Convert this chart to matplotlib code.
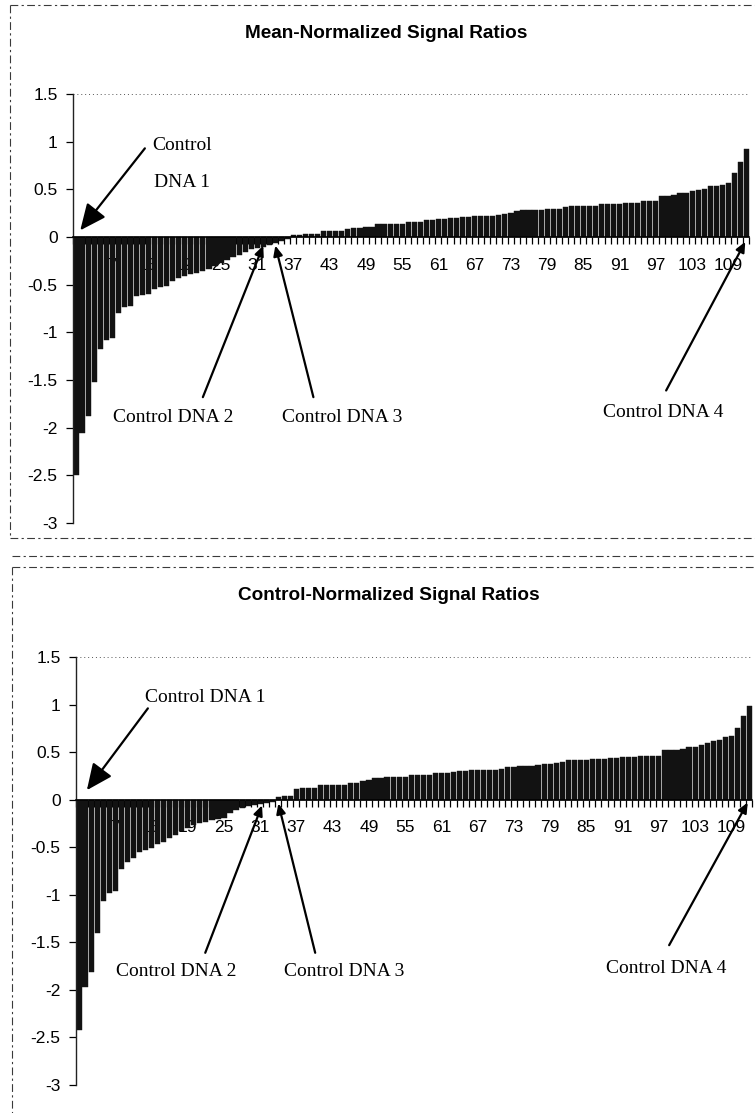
import matplotlib
matplotlib.use("Agg")
import matplotlib.pyplot as plt
from matplotlib.lines import Line2D
import numpy as np

# Sorted log signal ratios for the 112 DNA samples, two normalisations
mean_normalized = [
    -2.50, -2.06, -1.88, -1.52, -1.17, -1.08, -1.06, -0.80, -0.73, -0.72,
    -0.62, -0.61, -0.60, -0.55, -0.52, -0.51, -0.46, -0.43, -0.41, -0.39,
    -0.38, -0.36, -0.34, -0.30, -0.27, -0.24, -0.21, -0.19, -0.16, -0.13,
    -0.12, -0.10, -0.08, -0.06, -0.04, -0.02,
    0.02, 0.02, 0.03, 0.03, 0.03, 0.06, 0.06, 0.06, 0.06, 0.08,
    0.09, 0.09, 0.10, 0.11, 0.14, 0.14, 0.14, 0.14, 0.14, 0.16,
    0.16, 0.16, 0.18, 0.18, 0.19, 0.19, 0.20, 0.20, 0.21, 0.21,
    0.22, 0.22, 0.22, 0.22, 0.23, 0.24, 0.25, 0.27, 0.28, 0.28,
    0.28, 0.28, 0.29, 0.29, 0.29, 0.31, 0.32, 0.32, 0.33, 0.33,
    0.33, 0.35, 0.35, 0.35, 0.35, 0.36, 0.36, 0.36, 0.38, 0.38, 0.38,
    0.43, 0.43, 0.44, 0.46, 0.46, 0.48, 0.49, 0.50, 0.53, 0.53,
    0.55, 0.57, 0.67, 0.79, 0.92,
]

control_normalized = [
    -2.42, -1.97, -1.81, -1.40, -1.07, -0.98, -0.96, -0.73, -0.66, -0.61,
    -0.55, -0.53, -0.51, -0.47, -0.44, -0.40, -0.37, -0.33, -0.30, -0.27,
    -0.25, -0.23, -0.21, -0.20, -0.19, -0.14, -0.11, -0.09, -0.07, -0.06,
    -0.05, -0.04, -0.02,
    0.03, 0.035, 0.035,
    0.11, 0.12, 0.12, 0.12,
    0.155, 0.155, 0.155, 0.155, 0.155,
    0.18, 0.18, 0.196, 0.203, 0.228, 0.228,
    0.24, 0.24, 0.24, 0.24,
    0.256, 0.256, 0.256, 0.256,
    0.28, 0.28, 0.28, 0.295, 0.30, 0.30,
    0.31, 0.31, 0.31, 0.31, 0.31,
    0.32, 0.344, 0.344, 0.35, 0.35, 0.35,
    0.365, 0.379, 0.379, 0.386, 0.393,
    0.414, 0.414, 0.42, 0.42, 0.428, 0.428, 0.432, 0.435, 0.435,
    0.449, 0.449, 0.449, 0.463, 0.463, 0.463, 0.463,
    0.52, 0.52, 0.52, 0.533, 0.554, 0.554, 0.579, 0.596, 0.614, 0.632,
    0.66, 0.674, 0.754, 0.877, 0.99,
]

panel_titles = ["Mean-Normalized Signal Ratios", "Control-Normalized Signal Ratios"]
y_ticks = [1.5, 1, 0.5, 0, -0.5, -1, -1.5, -2, -2.5, -3]
label_step = 6

SANS = ["Liberation Sans", "DejaVu Sans"]
SERIF = ["Liberation Serif", "DejaVu Serif"]

W, H = 755, 1113
fig = plt.figure(figsize=(W / 100, H / 100), dpi=100)


def px_rect(left, top, right, bottom):
    return [left / W, 1 - bottom / H, (right - left) / W, (bottom - top) / H]


def draw_panel(ax, values):
    n = len(values)
    idx = np.arange(1, n + 1)
    ax.bar(idx, values, width=0.86, color="#121212", edgecolor="#121212",
           linewidth=0.3, zorder=2)
    ax.set_xlim(0.5, n + 0.5)
    ax.set_ylim(-3, 1.5)

    for s in ("top", "right"):
        ax.spines[s].set_visible(False)
    ax.spines["bottom"].set_position(("data", 0))
    ax.spines["bottom"].set_linewidth(1.2)
    ax.spines["left"].set_linewidth(1.0)
    ax.spines["left"].set_color("#222222")

    # category boundaries carry the tick marks, every sixth category a label
    ax.set_xticks(np.arange(0.5, n + 1, 1.0))
    ax.set_xticklabels([])
    ax.tick_params(axis="x", which="major", direction="out", length=5,
                   width=0.9, color="black")
    lab_pos = np.arange(1, n + 1, label_step)
    ax.set_xticks(lab_pos, minor=True)
    ax.set_xticklabels([str(v) for v in lab_pos], minor=True,
                       fontfamily=SANS, fontsize=12.5)
    ax.tick_params(axis="x", which="minor", length=0, pad=15)
    ax.xaxis.set_zorder(0.5)

    ax.set_yticks(y_ticks)
    ax.set_yticklabels([f"{t:g}" for t in y_ticks], fontfamily=SANS, fontsize=12.5)
    ax.tick_params(axis="y", direction="out", length=5, width=0.9, pad=6)

    ax.axhline(1.5, color="#555555", lw=0.7, ls=(0, (1, 3)), zorder=1)
    ax.set_facecolor("none")


def arrow(ax, tip, tail, big=False):
    if big:
        style = "-|>,head_length=1.0,head_width=0.45"
        ms = 16
    else:
        style = "-|>,head_length=1.0,head_width=0.45"
        ms = 6
    ax.annotate("", xy=tip, xytext=tail, annotation_clip=False,
                arrowprops=dict(arrowstyle=style, color="black", lw=1.6,
                                mutation_scale=ms, shrinkA=0, shrinkB=0),
                zorder=5)


def note(ax, x, y, s, ha="center"):
    ax.text(x, y, s, fontfamily=SERIF, fontsize=14, ha=ha, va="center",
            zorder=5, clip_on=False)


# ---- upper panel ----
ax1 = fig.add_axes(px_rect(73, 94, 749.5, 523))
draw_panel(ax1, mean_normalized)
arrow(ax1, (1.7, 0.07), (12.4, 0.93), big=True)
note(ax1, 13.6, 0.965, "Control", ha="left")
note(ax1, 13.9, 0.57, "DNA 1", ha="left")
arrow(ax1, (32.0, -0.09), (22.0, -1.68))
note(ax1, 17.1, -1.89, "Control DNA 2")
arrow(ax1, (34.0, -0.09), (40.3, -1.68))
note(ax1, 45.1, -1.89, "Control DNA 3")
arrow(ax1, (111.8, -0.05), (98.7, -1.61))
note(ax1, 98.2, -1.84, "Control DNA 4")

# ---- lower panel ----
ax2 = fig.add_axes(px_rect(76, 657, 752.5, 1085))
draw_panel(ax2, control_normalized)
ax2.axhline(-3, color="#555555", lw=0.7, ls=(0, (1, 3)), zorder=1)
arrow(ax2, (2.3, 0.10), (12.4, 0.96), big=True)
note(ax2, 11.9, 1.07, "Control DNA 1", ha="left")
arrow(ax2, (31.3, -0.06), (21.9, -1.61))
note(ax2, 17.1, -1.81, "Control DNA 2")
arrow(ax2, (34.0, -0.04), (40.1, -1.61))
note(ax2, 44.9, -1.81, "Control DNA 3")
arrow(ax2, (111.7, -0.03), (98.7, -1.53))
note(ax2, 98.2, -1.77, "Control DNA 4")

# ---- titles ----
fig.text(386 / W, 1 - 34 / H, panel_titles[0], fontfamily=SANS, fontsize=13.7,
         fontweight="bold", ha="center", va="center")
fig.text(389 / W, 1 - 595 / H, panel_titles[1], fontfamily=SANS, fontsize=13.7,
         fontweight="bold", ha="center", va="center")

# ---- dashed chart-area frames ----
def frame_line(x0, y0, x1, y1):
    fig.add_artist(Line2D([x0 / W, x1 / W], [1 - y0 / H, 1 - y1 / H],
                          color="#3a3a3a", lw=0.8, ls=(0, (7, 3, 2, 3))))

frame_line(10, 5, 755, 5)
frame_line(10, 5, 10, 538)
frame_line(10, 538, 755, 538)
frame_line(12, 556, 755, 556)
frame_line(12, 567, 755, 567)
frame_line(12, 567, 12, 1113)

fig.savefig("out.png", dpi=100)
